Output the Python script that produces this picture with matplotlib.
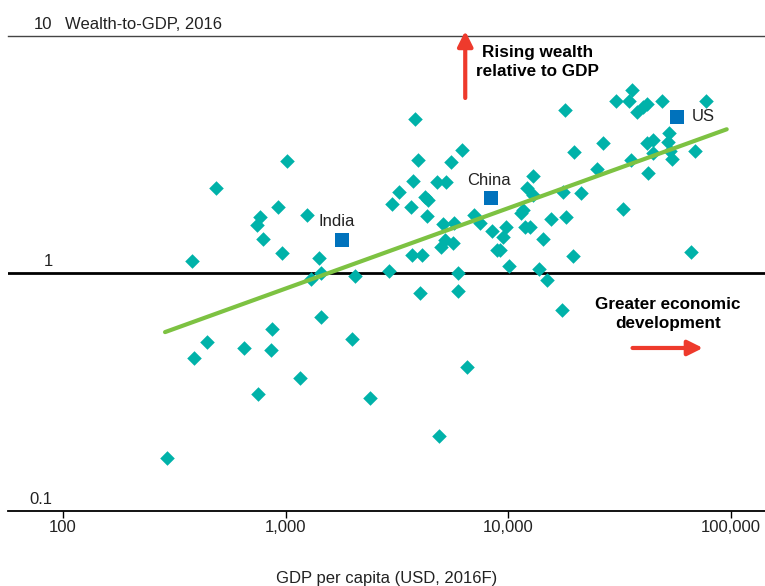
import matplotlib
matplotlib.use("Agg")
import matplotlib.pyplot as plt
from matplotlib.ticker import FixedLocator, NullLocator
import matplotlib.transforms as mtransforms

plt.rcParams['font.family'] = ['Liberation Sans', 'DejaVu Sans']

# GDP per capita (USD) and wealth-to-GDP ratio
gdp = [292, 389, 444, 646, 865, 857, 752, 1159, 1439, 1986,
       2393, 4875, 6516, 4009, 5958, 1010, 486, 923, 1247, 767,
       741, 791, 959, 378, 1411, 1439, 1299, 2047, 3811, 3936,
       6209, 5521, 3741, 4797, 5248, 3228, 4223, 4342, 3011, 3653,
       4325, 5070, 5700, 7007, 7457, 8414, 5191, 4981, 5658, 8861,
       3680, 4081, 2918, 5939, 12938, 12085, 12938, 17640, 21180, 11594,
       11357, 15535, 18140, 9754, 9487, 11872, 12502, 14257, 9170, 19440,
       10093, 13763, 14860, 17405, 17960, 19710, 24920, 26590, 30330, 36000,
       34900, 37920, 40100, 41780, 48800, 77150, 41780, 44740, 52780, 52240,
       53160, 44740, 54120, 68860, 35520, 42480, 32810, 65860]
ratio = [0.167, 0.440, 0.515, 0.485, 0.585, 0.474, 0.310, 0.362, 0.654, 0.529,
         0.300, 0.207, 0.403, 0.826, 0.839, 2.97, 2.28, 1.905, 1.762, 1.728,
         1.599, 1.400, 1.219, 1.132, 1.162, 1.008, 0.948, 0.976, 4.45, 3.00,
         3.31, 2.95, 2.455, 2.43, 2.43, 2.208, 2.097, 2.037, 1.96, 1.898,
         1.745, 1.615, 1.636, 1.762, 1.636, 1.514, 1.383, 1.296, 1.347, 1.255,
         1.196, 1.196, 1.021, 1.00, 2.57, 2.282, 2.138, 2.208, 2.175, 1.849,
         1.791, 1.690, 1.733, 1.564, 1.428, 1.564, 1.564, 1.397, 1.255, 1.188,
         1.075, 1.044, 0.939, 0.702, 4.87, 3.25, 2.76, 3.53, 5.33, 5.91,
         5.33, 4.76, 5.00, 5.15, 5.33, 5.33, 3.55, 3.64, 3.91, 3.58,
         3.27, 3.20, 3.02, 3.28, 3.00, 2.65, 1.862, 1.235]

# highlighted countries
hl_names = ['India', 'China', 'US']
hl_gdp = [1789, 8327, 56980]
hl_ratio = [1.383, 2.07, 4.56]

# trend line end points
trend_gdp = [287, 95500]
trend_ratio = [0.566, 4.04]

xticks = [100, 1000, 10000, 100000]
xtick_labels = ['100', '1,000', '10,000', '100,000']
yticks = [0.1, 1, 10]
ytick_labels = ['0.1', '1', '10']

teal = '#00B2A9'
blue = '#0072BC'
green = '#7DC242'
red = '#EE3A2C'
txt = '#222222'

fig = plt.figure(figsize=(7.65, 5.86), dpi=100)
ax = fig.add_axes([0.0105, 0.128, 0.9895, 0.811])
ax.set_xscale('log')
ax.set_yscale('log')
ax.set_xlim(56.6, 141900)
ax.set_ylim(0.1, 10)

ax.axhline(1, color='black', lw=2, zorder=1)
ax.scatter(gdp, ratio, marker='D', s=55, color=teal, linewidths=0, zorder=2)
ax.plot(trend_gdp, trend_ratio, color=green, lw=3, solid_capstyle='round', zorder=3)
ax.scatter(hl_gdp, hl_ratio, marker='s', s=92, color=blue, linewidths=0, zorder=4)

offsets = {'India': (-4, 13, 'center'), 'China': (-1.5, 12.5, 'center'), 'US': (11, 0, 'left')}
for name, gx, gy in zip(hl_names, hl_gdp, hl_ratio):
    dx, dy, ha = offsets[name]
    ax.annotate(name, (gx, gy), xytext=(dx, dy), textcoords='offset points',
                ha=ha, va='center', fontsize=12, color=txt)

# spines
for s in ['left', 'right']:
    ax.spines[s].set_visible(False)
ax.spines['top'].set_color('#444444')
ax.spines['top'].set_linewidth(1)
ax.spines['bottom'].set_color('black')
ax.spines['bottom'].set_linewidth(1.3)

ax.xaxis.set_major_locator(FixedLocator(xticks))
ax.set_xticklabels(xtick_labels)
ax.xaxis.set_minor_locator(NullLocator())
ax.yaxis.set_major_locator(NullLocator())
ax.yaxis.set_minor_locator(NullLocator())
ax.tick_params(axis='x', length=5, width=1, pad=1.5, labelsize=12, labelcolor=txt)
ax.set_xlabel('GDP per capita (USD, 2016F)', fontsize=12, color=txt, labelpad=26)

# y labels sit just above their gridlines
trans = mtransforms.blended_transform_factory(ax.transAxes, ax.transData)
lift = mtransforms.offset_copy(trans, fig=fig, x=0, y=3, units='points')
for v, lab in zip(yticks, ytick_labels):
    ax.text(0.059, v, lab, transform=lift, ha='right', va='bottom',
            fontsize=12, color=txt)
ax.text(0.075, 10, 'Wealth-to-GDP, 2016', transform=lift, ha='left', va='bottom',
        fontsize=12, color=txt)

# direction annotations
ax.annotate('', xy=(0.604, 1.01), xytext=(0.604, 0.869), xycoords='axes fraction',
            arrowprops=dict(arrowstyle='-|>,head_length=0.9,head_width=0.45',
                            color=red, lw=3, shrinkA=0, shrinkB=0))
ax.text(0.700, 0.9447, 'Rising wealth\nrelative to GDP', transform=ax.transAxes,
        ha='center', va='center', fontsize=12.3, fontweight='bold',
        linespacing=1.3, color='black')
ax.annotate('', xy=(0.918, 0.343), xytext=(0.825, 0.343), xycoords='axes fraction',
            arrowprops=dict(arrowstyle='-|>,head_length=0.9,head_width=0.45',
                            color=red, lw=3, shrinkA=0, shrinkB=0))
ax.text(0.872, 0.4145, 'Greater economic\ndevelopment', transform=ax.transAxes,
        ha='center', va='center', fontsize=12.3, fontweight='bold',
        linespacing=1.3, color='black')

fig.savefig('out.png', dpi=100)
